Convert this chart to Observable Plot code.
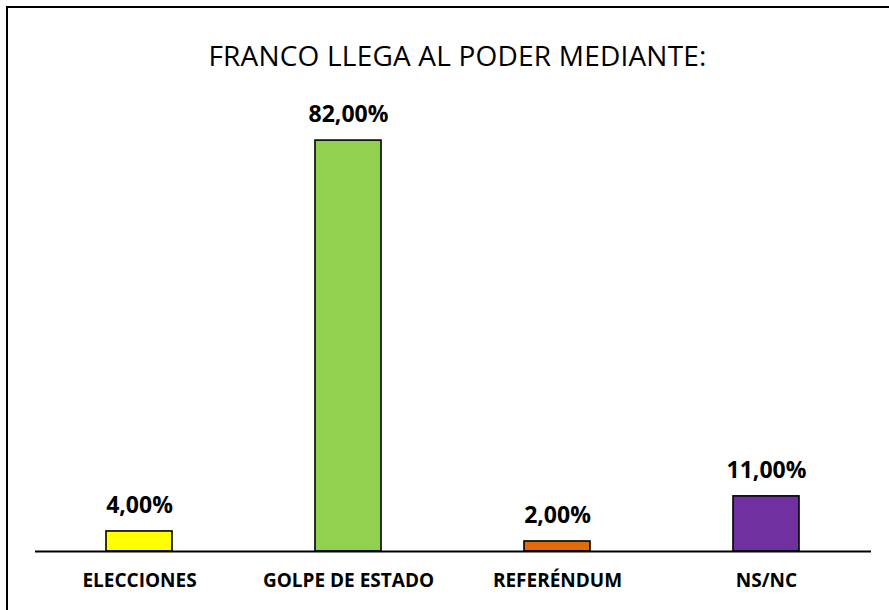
<!DOCTYPE html>
<html>
<head>
<meta charset="utf-8">
<script src="https://cdn.jsdelivr.net/npm/d3@7"></script>
<script src="https://cdn.jsdelivr.net/npm/@observablehq/plot@0.6"></script>
<style>
  html, body { margin: 0; padding: 0; background: #fff; overflow: hidden; }
  #wrap { position: relative; width: 889px; height: 610px; overflow: hidden; background: #fff; }
  #frame { position: absolute; left: 6px; top: 6px; width: 1000px; height: 1000px;
           border-left: 2px solid #000; border-top: 2px solid #000; box-sizing: border-box; }
  #title { position: absolute; left: 0; width: 915px; top: 38px; height: 34px; line-height: 34px;
           text-align: center; font-family: "Open Sans", sans-serif; font-size: 28px; color: #000;
           letter-spacing: 0.2px; }
  #chart { position: absolute; left: 0; top: 80px; }
</style>
</head>
<body>
<div id="wrap">
  <div id="frame"></div>
  <div id="title">FRANCO LLEGA AL PODER MEDIANTE:</div>
  <div id="chart"></div>
</div>
<script>
const categories = ["ELECCIONES", "GOLPE DE ESTADO", "REFERÉNDUM", "NS/NC"];
const values = [4, 82, 2, 11];
const labels = ["4,00%", "82,00%", "2,00%", "11,00%"];
const colors = ["#FFFF00", "#92D050", "#E26B0A", "#7030A0"];

const data = categories.map((c, i) => ({cat: c, value: values[i], label: labels[i], color: colors[i]}));

const chart = Plot.plot({
  width: 889,
  height: 530,
  marginTop: 20,
  marginBottom: 59,
  marginLeft: 35,
  marginRight: 18,
  style: {fontFamily: "Open Sans, sans-serif", color: "#000", background: "transparent"},
  x: {domain: categories, paddingInner: 0.684, paddingOuter: 0.342, label: null},
  y: {domain: [0, 90], axis: null},
  marks: [
    Plot.barY(data, {x: "cat", y: "value", fill: "color", stroke: "#000", strokeWidth: 1.6}),
    Plot.ruleY([0], {stroke: "#000", strokeWidth: 2.2}),
    Plot.text(data, {x: "cat", y: "value", text: "label", dy: -26, fontSize: 23, fontWeight: "bold", fill: "#000"}),
    Plot.axisX({tickSize: 0, tickPadding: 22, fontSize: 19, fontWeight: "bold", label: null, fill: "#000"})
  ]
});
document.getElementById("chart").appendChild(chart);
</script>
</body>
</html>
